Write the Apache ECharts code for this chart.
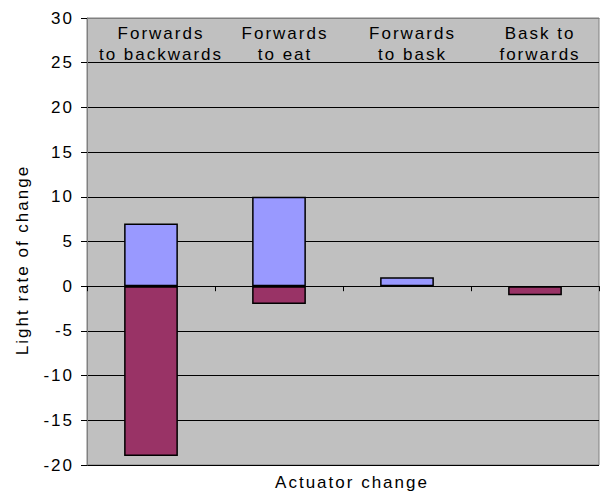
<!DOCTYPE html>
<html>
<head>
<meta charset="utf-8">
<script src="https://cdn.jsdelivr.net/npm/echarts@6/dist/echarts.min.js"></script>
<style>
  html, body { margin: 0; padding: 0; background: #ffffff; }
  #chart { width: 600px; height: 494px; }
  #chart text { letter-spacing: 2px; }
</style>
</head>
<body>
<div id="chart"></div>
<script>
// Actuator transitions along the category axis
const categories = [
  'Forwards\nto backwards',
  'Forwards\nto eat',
  'Forwards\nto bask',
  'Bask to\nforwards'
];
// Rate of change of light, split into rising and falling parts
const increaseValues = [7, 10, 1, null];
const decreaseValues = [-19, -2, null, -1];
// Value axis range and step
const yMin = -20;
const yMax = 30;
const yStep = 5;

const FONT = '"Liberation Sans", Arial, sans-serif';

// Header labels sit slightly right of each column centre
const labelShift = [20, 12, 11, 10];
const headerItems = categories.map((name, i) => ({
  value: name,
  textStyle: { padding: [0, 0, 0, labelShift[i]] }
}));

const chart = echarts.init(document.getElementById('chart'), null, { renderer: 'svg' });

chart.setOption({
  animation: false,
  backgroundColor: '#ffffff',
  grid: {
    left: 87, right: 1, top: 18, bottom: 29,
    show: true,
    backgroundColor: '#c0c0c0',
    borderColor: '#808080',
    borderWidth: 1
  },
  xAxis: [
    {
      type: 'category',
      data: categories,
      position: 'bottom',
      axisLine: { onZero: true, lineStyle: { color: '#000000', width: 1 } },
      axisTick: { show: true, length: 5, lineStyle: { color: '#000000' } },
      axisLabel: { show: false },
      splitLine: { show: false }
    },
    {
      type: 'category',
      data: headerItems,
      position: 'top',
      axisLine: { onZero: false, show: true, lineStyle: { color: '#808080' } },
      axisTick: { show: false },
      axisLabel: {
        inside: true,
        margin: 5,
        color: '#000000',
        fontFamily: FONT,
        fontSize: 17,
        lineHeight: 21,
        verticalAlign: 'top',
        interval: 0
      },
      splitLine: { show: false }
    }
  ],
  yAxis: {
    type: 'value',
    min: yMin,
    max: yMax,
    interval: yStep,
    axisLine: { show: true, lineStyle: { color: '#808080' } },
    axisTick: { show: true, length: 6, lineStyle: { color: '#000000' } },
    axisLabel: {
      margin: 13,
      color: '#000000',
      fontFamily: FONT,
      fontSize: 17
    },
    splitLine: { show: true, lineStyle: { color: '#000000', width: 1 } }
  },
  graphic: [
    {
      type: 'text',
      x: 22, y: 260,
      rotation: Math.PI / 2,
      style: {
        text: 'Light rate of change',
        fill: '#000000',
        font: '17px ' + FONT,
        align: 'center',
        verticalAlign: 'middle'
      }
    },
    {
      type: 'text',
      x: 352, y: 482,
      style: {
        text: 'Actuator change',
        fill: '#000000',
        font: '17px ' + FONT,
        align: 'center',
        verticalAlign: 'middle'
      }
    }
  ],
  series: [
    {
      name: 'Increase',
      type: 'bar',
      stack: 'light',
      xAxisIndex: 0,
      barWidth: '42%',
      data: increaseValues,
      itemStyle: { color: '#9999ff', borderColor: '#000000', borderWidth: 1.5 }
    },
    {
      name: 'Decrease',
      type: 'bar',
      stack: 'light',
      xAxisIndex: 0,
      barWidth: '42%',
      data: decreaseValues,
      itemStyle: { color: '#993366', borderColor: '#000000', borderWidth: 1.5 }
    }
  ]
});
</script>
</body>
</html>
